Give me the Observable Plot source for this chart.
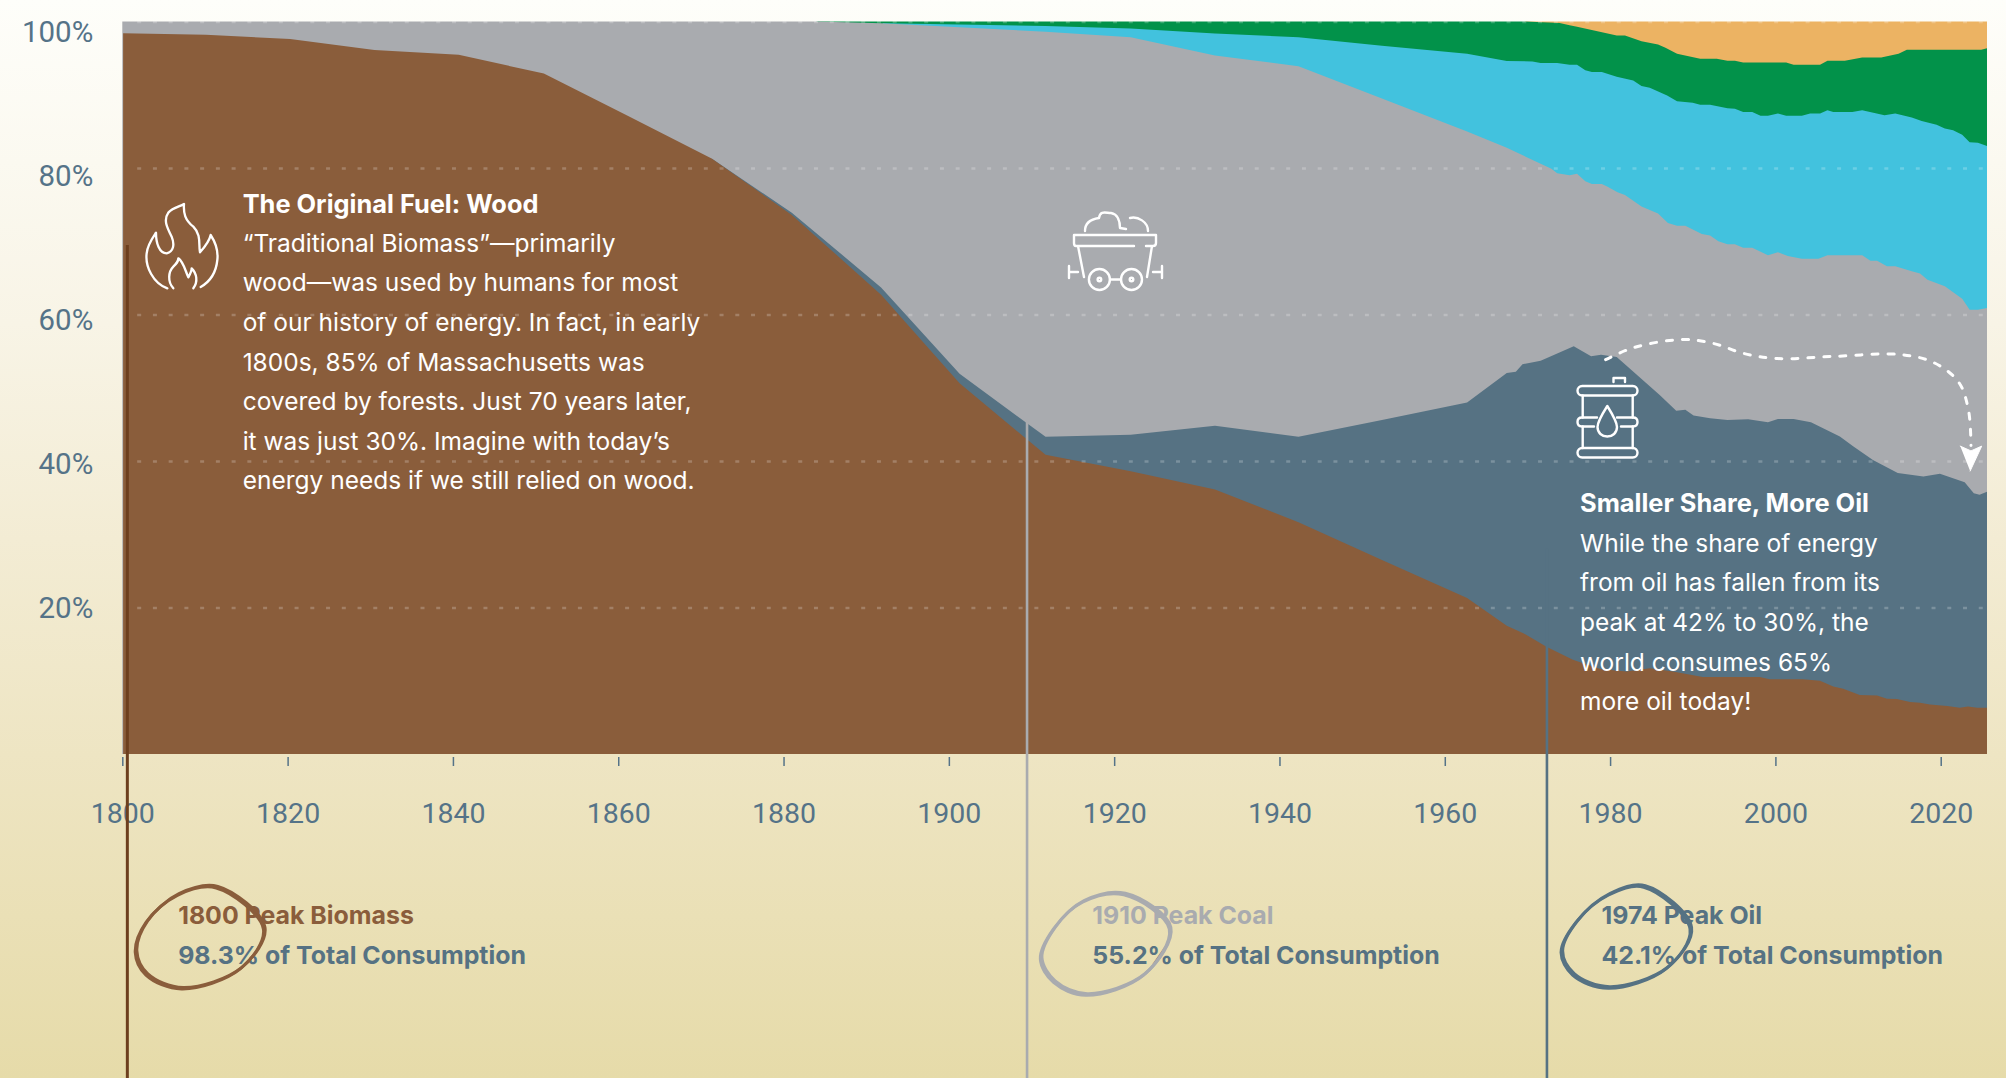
<!DOCTYPE html>
<html><head><meta charset="utf-8">
<script src="https://cdn.jsdelivr.net/npm/d3@7"></script>
<script src="https://cdn.jsdelivr.net/npm/@observablehq/plot@0.6"></script>
<style>
html,body{margin:0;padding:0;width:2006px;height:1078px;overflow:hidden;
background:linear-gradient(#fefefa 0%,#f8f4e6 30%,#f3ecd4 50%,#eee5c3 70%,#e6dba9 100%);}
svg{display:block}
</style></head><body><div id="chart"></div>
<script>
// Upper edge of each energy source in the stack, in % of total consumption.
const biomassYears=[1800.1,1810.1,1820.3,1830.5,1840.7,1851,1861.2,1871.3,1881,1891.8,1901.3,1911.7,1922,1932.2,1942.3,1952.4,1962.7,1967.5,1969.5,1972.3,1975.5,1978.8,1982,1984.8,1987.6,1991.2,1998.1,1999.3,2003.3,2005.4,2007,2008.2,2010.2,2012.3,2013.5,2014.7,2016.3,2017.5,2018.7,2020.8,2022.3,2023.3,2024.4,2025.6];
const biomassTop=[98.4,98.2,97.6,96.1,95.45,92.9,87.1,81.3,73.6,62.7,50.6,40.85,38.6,36.1,31.65,26.5,21.3,17.5,16.5,14.65,12.85,11.6,11.25,11.7,11.25,10.5,10.5,10.2,10.2,10,9.2,8.9,8.05,8,7.55,7.5,7.1,7,6.75,6.55,6.3,6.5,6.3,6.3];
const oilYears=[1871.3,1881,1891.8,1901.3,1911.7,1922,1932.2,1942.3,1952.4,1962.7,1967.5,1968.6,1969.4,1971.6,1975.6,1977.7,1978.9,1980.8,1986,1988,1989.1,1990.1,1992.1,1994.2,1996.7,1999.1,2000.3,2002.2,2004.3,2007.8,2009.4,2011.8,2014.8,2017.9,2019.9,2022.9,2024,2024.7,2025.6];
const oilTop=[81.3,73.9,63.7,51.9,43.3,43.6,44.8,43.3,45.6,48,52,52.2,53.2,53.7,55.65,54.3,54.5,54.2,49,46.85,47,46.2,45.85,45.6,45.7,45.3,45.75,45.75,45.3,43.35,42,40.15,38.35,37.9,38.25,37.1,35.6,35.4,35.8];
const coalYears=[1800,1884,1891.8,1901.3,1911.7,1922,1932.2,1942.3,1952.4,1962.7,1967.5,1972.9,1973.6,1975.1,1976,1977,1977.8,1979,1979.7,1980.9,1981.8,1983.8,1985.8,1987,1988.1,1989.1,1991.1,1992.1,1993.1,1994.2,1995.1,1996.1,1997.2,1999.1,2000.3,2001.5,2003.2,2005.2,2006.3,2010.5,2011.5,2012.3,2013.5,2014.5,2016.5,2017.5,2018.4,2020.5,2022.6,2023.5,2024.5,2025.6];
const coalTop=[100,100,99.75,99.2,98.6,97.85,95.35,93.9,89.5,85,82.75,79.9,79.3,79,79.2,78.2,77.8,77.8,77.45,76.7,76.3,74.75,73.8,72.5,72.1,72.1,71,70.8,70,69.6,69.6,69.1,69.1,68.1,68.5,68,67.6,67.6,68.1,68.1,67.35,67.35,66.6,66.6,65.9,65.6,64.75,63.85,62.15,60.65,60.65,60.9];
const gasYears=[1892,1901.3,1911.7,1922,1932.2,1942.3,1952.4,1962.7,1967.5,1970.6,1971.6,1973.6,1975.1,1976,1977,1977.8,1979,1980.8,1982.8,1983.8,1984.8,1986.9,1988.1,1990,1990.9,1992.1,1994.2,1995.1,1996.1,1997.2,1998.2,1999.1,2000.3,2001.3,2003.2,2004.2,2005.4,2006.3,2007,2009.3,2010.5,2013.2,2014.5,2016.5,2017.7,2019.5,2020.5,2021.5,2022.6,2023.5,2024.5,2025.6];
const gasTop=[99.75,99.6,99.4,99.05,98.35,97.85,96.7,95.6,94.6,94.55,94.35,94.35,94.1,94.1,93.35,93.1,93.1,92.45,91.95,91.2,90.95,89.9,89.1,88.9,88.65,88.65,88.15,88.1,87.65,87.65,87.15,87.15,87.45,87.15,87.15,87.45,87.45,87.9,87.65,87.65,87.9,87.2,87.45,86.9,86.4,85.9,85.4,85.15,84.55,83.5,83.45,83];
const lowCarbonYears=[1884,1969.7,1973.9,1975.1,1976,1980.8,1981.8,1983.8,1985.8,1986.7,1988.1,1990.9,1992.9,1994.2,1995.1,1996.1,2001.3,2002.2,2005.4,2006.3,2008.4,2010.5,2012.8,2014.9,2015.9,2024.9,2025.6];
const lowCarbonTop=[100,100,99.8,99.5,99.3,98.1,98.1,97.3,96.85,96.4,95.6,94.9,94.9,94.65,94.65,94.4,94.4,94.1,94.1,94.65,94.65,95.1,95.1,95.6,96.15,96.15,96.35];
const renewableYears=[1969.7,2025.6];
const renewableTop=[100,100];

const xTicks=[1800,1820,1840,1860,1880,1900,1920,1940,1960,1980,2000,2020];
const yTicks=[20,40,60,80,100];

const C={biomass:"#8a5d3b",oil:"#567283",coal:"#a9abaf",gas:"#42c2de",green:"#02924a",orange:"#ecb363",axis:"#557388"};
const zip=(xs,ys)=>xs.map((x,i)=>({x,y:ys[i]}));

// Annotation geometry, in chart units (year, %).
const rings=[
 {color:C.biomass,pts:zip([1811.5,1817.2,1814.4,1807.3,1803,1801.7,1803,1806.8],[-18,-23.6,-29.06,-31.8,-29.9,-26.8,-22.7,-19])},
 {color:C.coal,pts:zip([1921.3,1926.8,1923.7,1916.7,1912.8,1911.2,1912.8,1916.3],[-18.95,-23.6,-29.9,-32.65,-30.9,-27.7,-23.6,-19.95])},
 {color:C.oil,pts:zip([1984.2,1989.8,1986.9,1979.9,1975.6,1974.2,1976,1979.9],[-17.9,-23.6,-29.05,-31.7,-29.9,-26.8,-22.7,-19])}
];
const arrowYears=[1979.4,1982.8,1988.7,1992.5,1996.1,2000.2,2007,2015.1,2019.1,2022.1,2023.3,2023.6];
const arrowPct=[53.9,55.55,56.65,56.1,54.75,54.05,54.35,54.6,53.5,50.85,47,42.2];
const arrowHeadYears=[2022.3,2023.6,2024.9,2023.5];
const arrowHeadPct=[42.1,41.45,42.1,38.7];
const peakRules=[
 {year:1800.55,top:69.5,color:"#6d3f1e",w:3},
 {year:1909.4,top:45.4,color:"#a9abaf",w:2.6},
 {year:1972.3,top:28.1,color:"#567283",w:2.6}
];
const peakLabels=[
 {year:1806.7,head:"1800 Peak Biomass",share:"98.3% of Total Consumption",color:C.biomass},
 {year:1917.3,head:"1910 Peak Coal",share:"55.2% of Total Consumption",color:C.coal},
 {year:1978.9,head:"1974 Peak Oil",share:"42.1% of Total Consumption",color:C.oil}
];
const woodTitle="The Original Fuel: Wood";
const woodBody=["“Traditional Biomass”—primarily","wood—was used by humans for most","of our history of energy. In fact, in early","1800s, 85% of Massachusetts was","covered by forests. Just 70 years later,","it was just 30%. Imagine with today’s","energy needs if we still relied on wood."];
const oilTitle="Smaller Share, More Oil";
const oilBody=["While the share of energy","from oil has fallen from its","peak at 42% to 30%, the","world consumes 65%","more oil today!"];

const F="Inter",FS=24.5,FT=25.4,FP=24.9,LH=39.6/FS;
const svgEl=(s)=>{const t=document.createElementNS("http://www.w3.org/2000/svg","g");t.innerHTML=s;return t;};
const icons=()=>svgEl(`
<g fill="none" stroke="#fff" stroke-width="7" stroke-linecap="round" stroke-linejoin="round" transform="translate(130,190) scale(.3333)">
<path d="M112,295C70,280 45,230 50,190C52,165 70,140 78,128C78,160 88,190 110,190C130,185 135,165 125,140C110,110 100,90 115,68C130,52 150,50 162,42C160,70 165,90 190,110C215,135 205,165 210,187C225,170 238,155 242,135C255,155 265,185 262,210C258,250 240,275 212,291"/>
<path d="M130,295C112,275 115,245 130,230C140,220 145,215 145,205C160,215 165,240 175,262C182,250 185,240 185,235C200,250 205,275 190,295"/></g>
<g fill="none" stroke="#fff" stroke-width="2.4" stroke-linecap="round" stroke-linejoin="round">
<path d="M1085,231C1085,222 1092,219 1099,218C1100,210 1106,213 1111,213C1118,214 1120,222 1120,228L1126,229M1130,218C1138,216 1148,222 1148,231"/>
<path d="M1134,246L1076,246Q1074,246 1074,243L1074,235L1156,235L1156,243Q1156,246 1153,246L1146,246M1078,246L1084,277M1152,246L1147,277M1110,279.5L1121,279.5"/>
<circle cx="1099.4" cy="279.5" r="10.5"/><circle cx="1131.5" cy="279.5" r="10.5"/><circle cx="1099.4" cy="279.5" r="1.8"/><circle cx="1131.5" cy="279.5" r="1.8"/>
<path d="M1069,266V278M1069,272H1078M1162,266V278M1162,272H1153"/></g>
<g fill="none" stroke="#fff" stroke-width="2.4" stroke-linecap="round" stroke-linejoin="round">
<path d="M1613.5,382V378H1625V382"/>
<rect x="1577.5" y="386" width="60" height="9.5" rx="4.7"/><rect x="1577.5" y="448" width="60" height="9.5" rx="4.7"/>
<path d="M1597,417.5H1582Q1577.5,417.5 1577.5,422Q1577.5,426.5 1582,426.5H1594M1617,417.5H1633Q1637.5,417.5 1637.5,422Q1637.5,426.5 1633,426.5H1621"/>
<path d="M1582.7,395.5V417.5M1632.7,395.5V417.5M1582.7,426.5V448M1632.7,426.5V448"/>
<path d="M1607.3,406C1601,416 1597.5,422 1597.5,427C1597.5,433 1602,436.5 1607.3,436.5C1612.5,436.5 1617,433 1617,427C1617,422 1613.5,416 1607.3,406Z"/></g>`);

const area=(xs,ys,fill)=>Plot.areaY(zip(xs,ys),{x:"x",y:"y",fill});
const yAxis=(t,dy)=>Plot.axisY({ticks:[t],tickFormat:d=>d+"%",label:null,tickSize:0,tickPadding:29.5,dy,fill:C.axis,fontSize:29.5,fontFamily:"Roboto"});

const chart=Plot.plot({
 width:2006,height:1078,
 marginLeft:122.3,marginRight:19,marginTop:21.5,marginBottom:324,
 style:{background:"transparent",overflow:"hidden"},
 x:{domain:[1800,2025.6],label:null},
 y:{domain:[0,100],label:null},
 marks:[
  area(renewableYears,renewableTop,C.orange),
  area(lowCarbonYears,lowCarbonTop,C.green),
  area(gasYears,gasTop,C.gas),
  area(coalYears,coalTop,C.coal),
  area(oilYears,oilTop,C.oil),
  area(biomassYears,biomassTop,C.biomass),
  Plot.ruleY(yTicks,{x1:1801.8,x2:2025.6,stroke:"#fff",strokeOpacity:.22,strokeWidth:2.7,strokeDasharray:"4 11.74"}),
  Plot.axisX({ticks:xTicks,tickFormat:d3.format("d"),label:null,dy:3,tickSize:9,tickPadding:36.5,stroke:C.axis,strokeWidth:1.5,fill:C.axis,fontSize:28.5,fontFamily:"Roboto"}),
  yAxis(100,10.5),yAxis(80,8),yAxis(60,5.5),yAxis(40,3),yAxis(20,1),
  Plot.ruleX(peakRules,{x:"year",y1:"top",y2:-44.5,stroke:"color",strokeWidth:"w"}),
  ...peakLabels.flatMap(d=>[
   Plot.text([d.head],{x:d.year,y:-22,text:t=>t,textAnchor:"start",lineAnchor:"middle",fill:d.color,fontFamily:F,fontWeight:700,fontSize:FP}),
   Plot.text([d.share],{x:d.year,y:-27.45,text:t=>t,textAnchor:"start",lineAnchor:"middle",fill:C.oil,fontFamily:F,fontWeight:700,fontSize:FP})
  ]),
  ...rings.flatMap(r=>[
   Plot.line(r.pts,{x:"x",y:"y",curve:"catmull-rom-closed",stroke:r.color,strokeWidth:3}),
   Plot.line(r.pts,{x:"x",y:"y",curve:"catmull-rom-closed",stroke:r.color,strokeWidth:3,dx:-1.6,dy:1.6})
  ]),
  Plot.text([woodTitle],{x:1814.5,y:75.1,text:t=>t,textAnchor:"start",lineAnchor:"middle",fill:"#fff",fontFamily:F,fontWeight:700,fontSize:FT}),
  Plot.text([woodBody.join("\n")],{x:1814.5,y:69.8,text:t=>t,textAnchor:"start",lineAnchor:"top",dy:-19.5,lineHeight:LH,fill:"#fff",fontFamily:F,fontSize:FS}),
  Plot.text([oilTitle],{x:1976.3,y:34.2,text:t=>t,textAnchor:"start",lineAnchor:"middle",fill:"#fff",fontFamily:F,fontWeight:700,fontSize:FT}),
  Plot.text([oilBody.join("\n")],{x:1976.3,y:28.85,text:t=>t,textAnchor:"start",lineAnchor:"top",dy:-19.5,lineHeight:LH,fill:"#fff",fontFamily:F,fontSize:FS}),
  Plot.line(zip(arrowYears,arrowPct),{x:"x",y:"y",curve:"catmull-rom",stroke:"#fff",strokeWidth:3,strokeDasharray:"6 10"}),
  Plot.line(zip(arrowHeadYears,arrowHeadPct),{x:"x",y:"y",stroke:"#fff",fill:"#fff",strokeWidth:1}),
  icons
 ]
});
document.getElementById("chart").append(chart);
</script></body></html>
